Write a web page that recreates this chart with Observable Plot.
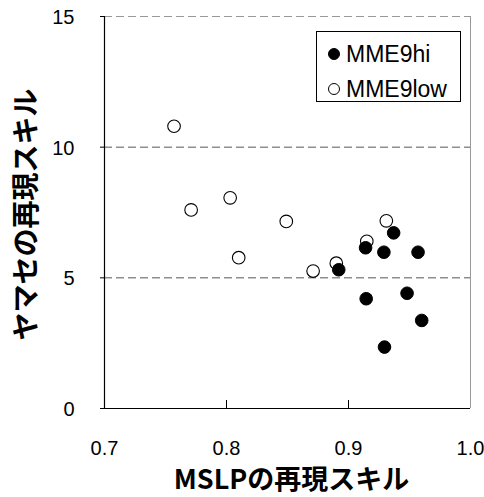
<!DOCTYPE html>
<html><head><meta charset="utf-8">
<script src="https://cdn.jsdelivr.net/npm/d3@7"></script>
<script src="https://cdn.jsdelivr.net/npm/@observablehq/plot@0.6"></script>
<style>
body{margin:0;background:#fff;}
#wrap{position:relative;width:484px;height:497px;}
#legend{position:absolute;left:316px;top:31px;width:145px;height:71px;border:1px solid #000;background:#fff;box-sizing:border-box;font-family:"Liberation Sans",Arial,sans-serif;font-size:23px;color:#000;}
#legend .row{position:absolute;left:0;height:30px;display:flex;align-items:center;}
#legend svg{margin-left:10px;margin-right:5px;}
</style>
</head><body><div id="wrap"></div>
<script>
const seriesNames = ["MME9hi", "MME9low"];
const hiX = [0.892, 0.914, 0.929, 0.937, 0.957, 0.9145, 0.948, 0.960, 0.9295];
const hiY = [5.31, 6.15, 5.98, 6.72, 5.98, 4.20, 4.41, 3.37, 2.35];
const lowX = [0.757, 0.771, 0.803, 0.810, 0.849, 0.871, 0.890, 0.915, 0.931];
const lowY = [10.80, 7.60, 8.06, 5.77, 7.16, 5.26, 5.56, 6.40, 7.18];
const xTicks = [0.7, 0.8, 0.9, 1.0];
const xTickLabels = ["0.7", "0.8", "0.9", "1.0"];
const yTicks = [0, 5, 10, 15];
const xLabel = "MSLPの再現スキル";
const yLabel = "ヤマセの再現スキル";

const hi = hiX.map((x, i) => ({x, y: hiY[i]}));
const low = lowX.map((x, i) => ({x, y: lowY[i]}));
const latin = "'Liberation Sans', Arial, sans-serif";
const cjk = "'Noto Sans CJK JP', sans-serif";

const chart = Plot.plot({
  width: 484, height: 497,
  marginLeft: 104, marginRight: 14, marginTop: 16, marginBottom: 89,
  style: {fontFamily: latin, background: "#fff", color: "#000"},
  x: {domain: [0.7, 1.0], label: null, axis: null},
  y: {domain: [0, 15], label: null},
  marks: [
    Plot.ruleY(yTicks.slice(1, 3), {stroke: "#555", strokeDasharray: "8,4"}),
    Plot.ruleY(yTicks.slice(3), {stroke: "#999", strokeDasharray: "8,4"}),
    Plot.ruleX(xTicks.slice(3), {stroke: "#999"}),
    Plot.axisY({ticks: yTicks, tickSize: 4, tickFormat: () => "", label: null}),
    Plot.tickX(xTicks.slice(1, 3), {x: d => d, stroke: "#000", insetTop: 384}),
    Plot.text(xTicks, {x: d => d, text: (d, i) => xTickLabels[i], frameAnchor: "bottom", lineAnchor: "middle", dy: 40, fontSize: 20, fontFamily: latin, fill: "#000"}),
    Plot.text(yTicks, {y: d => d, text: d => String(d), frameAnchor: "left", textAnchor: "end", lineAnchor: "middle", dx: -30, dy: 1, fontSize: 20, fontFamily: latin, fill: "#000"}),
    Plot.ruleX(xTicks.slice(0, 1), {stroke: "#000", strokeWidth: 1.2}),
    Plot.ruleY(yTicks.slice(0, 1), {stroke: "#000", strokeWidth: 1.2}),
    Plot.dot(low, {x: "x", y: "y", r: 6.3, fill: "#fff", stroke: "#000", strokeWidth: 1.1}),
    Plot.dot(hi, {x: "x", y: "y", r: 6.3, fill: "#000", stroke: "#000", strokeWidth: 1}),
    Plot.text([xLabel], {frameAnchor: "bottom", textAnchor: "middle", lineAnchor: "middle", dy: 72, dx: 4, text: d => d, fontSize: 27, fontWeight: "bold", fontFamily: cjk, fill: "#000"}),
    Plot.text([yLabel], {frameAnchor: "left", textAnchor: "middle", dx: -77, dy: 2, rotate: -90, text: d => d, fontSize: 28, fontWeight: "bold", fontFamily: cjk, fill: "#000"})
  ]
});
const wrap = document.getElementById("wrap");
wrap.appendChild(chart);

const legend = document.createElement("div");
legend.id = "legend";
seriesNames.forEach((name, i) => {
  const row = document.createElement("div");
  row.className = "row";
  row.style.top = (7 + i * 35) + "px";
  const fill = i === 0 ? "#000" : "#fff";
  row.innerHTML = `<svg width="14" height="14"><circle cx="7" cy="7" r="5.5" fill="${fill}" stroke="#000" stroke-width="1"/></svg><span>${name}</span>`;
  legend.appendChild(row);
});
wrap.appendChild(legend);
</script>
</body></html>
